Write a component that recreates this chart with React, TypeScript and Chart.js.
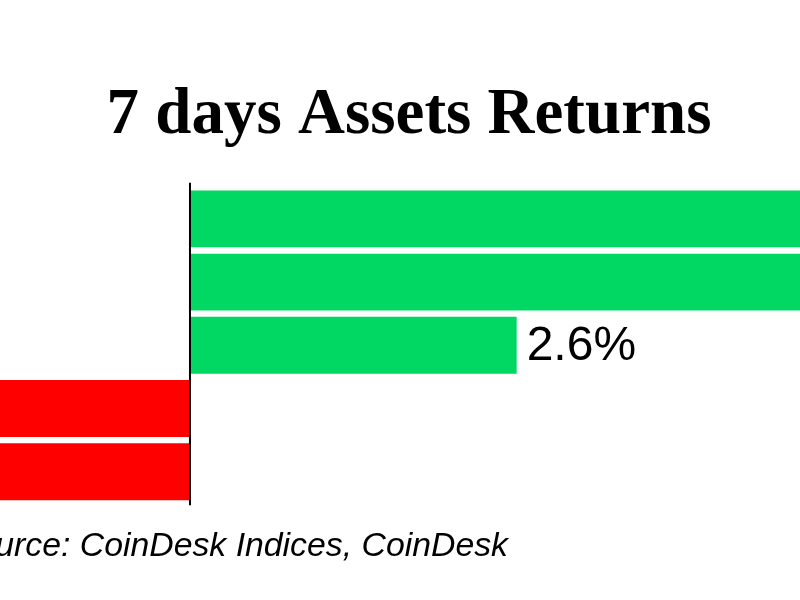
import React, { useEffect, useRef } from "react";
import { Chart, registerables } from "chart.js";

Chart.register(...registerables);

const categories = ["CoinDesk 20", "Bitcoin", "Ether", "Gold", "Nasdaq 100"];
const returns = [6.8, 5.4, 2.6, -2.1, -2.7];
const titleText = "7 days Assets Returns";
const sourceText = "Source: CoinDesk Indices, CoinDesk";
const xMin = -1.512;
const xMax = 4.855;

const GREEN = "#00D863";
const RED = "#FF0000";

const overlay = {
  id: "overlay",
  afterDatasetsDraw(chart: any) {
    const { ctx, chartArea, scales } = chart;
    const x0 = scales.x.getPixelForValue(0);
    ctx.save();
    // zero line
    ctx.strokeStyle = "#000";
    ctx.lineWidth = 2;
    ctx.beginPath();
    ctx.moveTo(x0, chartArea.top - 4.5);
    ctx.lineTo(x0, chartArea.bottom + 2);
    ctx.stroke();
    // value labels
    const meta = chart.getDatasetMeta(0);
    ctx.fillStyle = "#000";
    ctx.font = "48px 'Liberation Sans', Arial, sans-serif";
    ctx.textBaseline = "middle";
    meta.data.forEach((bar: any, i: number) => {
      const v = returns[i];
      const label = `${v}%`;
      if (v >= 0) {
        ctx.textAlign = "left";
        ctx.fillText(label, bar.x + 10, bar.y + 1);
      } else {
        ctx.textAlign = "right";
        ctx.fillText(label, bar.x - 10, bar.y + 1);
      }
    });
    // title
    ctx.textBaseline = "alphabetic";
    ctx.textAlign = "center";
    ctx.font = "bold 65px 'Liberation Serif', 'Times New Roman', serif";
    ctx.fillText(titleText, 409, 133);
    // source
    ctx.textAlign = "right";
    ctx.font = "italic 33.8px 'Liberation Sans', Arial, sans-serif";
    ctx.fillText(sourceText, 508, 556);
    ctx.restore();
  },
};

export default function App() {
  const ref = useRef<HTMLCanvasElement | null>(null);
  useEffect(() => {
    if (!ref.current) return;
    const chart = new Chart(ref.current, {
      type: "bar",
      data: {
        labels: categories,
        datasets: [
          {
            data: returns,
            backgroundColor: returns.map((v) => (v >= 0 ? GREEN : RED)),
            borderWidth: 0,
            barPercentage: 0.9,
            categoryPercentage: 1,
          },
        ],
      },
      options: {
        indexAxis: "y",
        animation: false,
        responsive: false,
        maintainAspectRatio: false,
        layout: { padding: { top: 187.3, bottom: 96.7, left: 0, right: 0 } },
        plugins: {
          legend: { display: false },
          tooltip: { enabled: false },
          title: { display: false },
        },
        scales: {
          x: { display: false, min: xMin, max: xMax },
          y: { display: false },
        },
      },
      plugins: [overlay],
    });
    return () => chart.destroy();
  }, []);
  return (
    <div style={{ position: "fixed", left: 0, top: 0, width: 800, height: 600, background: "#fff" }}>
      <canvas ref={ref} width={800} height={600} style={{ width: 800, height: 600, display: "block" }} />
    </div>
  );
}
